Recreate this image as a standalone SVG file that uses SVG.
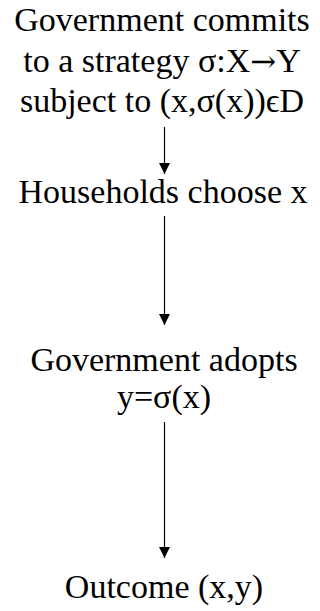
<svg xmlns="http://www.w3.org/2000/svg" width="320" height="611" viewBox="0 0 320 611">
<style>
text{font-family:"Liberation Serif","Times New Roman",serif;font-size:34px;fill:#000;text-anchor:middle}
.ar{font-family:"DejaVu Serif",serif;font-size:31px}
.c{stroke:#000;stroke-width:1.2;fill:none}
</style>
<defs>
<marker id="ah" markerWidth="11" markerHeight="12" refX="11" refY="5.5" orient="auto" markerUnits="userSpaceOnUse" viewBox="0 0 11 11">
<path d="M0,0 L11,5.5 L0,11 Z" fill="#000"/>
</marker>
</defs>
<rect width="320" height="611" fill="#fff"/>
<g id="n1">
<text x="162" y="31">Government commits</text>
<text x="162" y="72">to a strategy σ:X<tspan class="ar">→</tspan>Y</text>
<text x="162" y="112">subject to (x,σ(x))ϵD</text>
</g>
<g id="n2"><text x="163" y="203">Households choose x</text></g>
<g id="n3">
<text x="164" y="371">Government adopts</text>
<text x="164" y="408">y=σ(x)</text>
</g>
<g id="n4"><text x="164" y="598">Outcome (x,y)</text></g>
<g id="connectors">
<line class="c" x1="164.5" y1="127" x2="164.5" y2="174" marker-end="url(#ah)"/>
<line class="c" x1="164.5" y1="216" x2="164.5" y2="325" marker-end="url(#ah)"/>
<line class="c" x1="164.5" y1="422" x2="164.5" y2="558" marker-end="url(#ah)"/>
</g>
</svg>
